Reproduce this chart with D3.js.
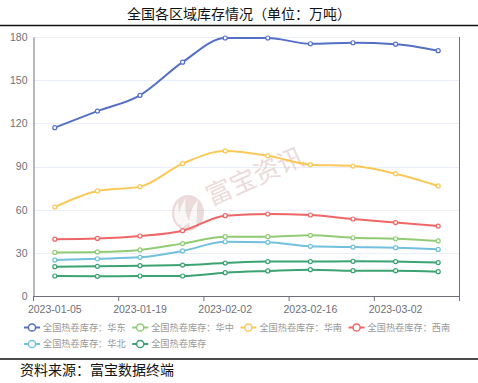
<!DOCTYPE html>
<html><head><meta charset="utf-8">
<script src="https://cdn.jsdelivr.net/npm/d3@7"></script>
<style>
html,body{margin:0;padding:0;background:#fff;}
svg{display:block;font-family:"Liberation Sans","Noto Sans CJK SC",sans-serif;}
</style></head>
<body>
<svg id="c" width="478" height="383"></svg>
<script>
const dates = ["2023-01-05","2023-01-12","2023-01-19","2023-01-26","2023-02-02","2023-02-09","2023-02-16","2023-02-23","2023-03-02","2023-03-09"];
const yTicks = [0,30,60,90,120,150,180];
const seriesNames = ["全国热卷库存：华东","全国热卷库存：华中","全国热卷库存：华南","全国热卷库存：西南","全国热卷库存：华北","全国热卷库存","全国热卷库存"];
const seriesColors = ["#5470c6","#91cc75","#fac858","#ee6666","#73c0de","#3ba272","#3ba272"];
const huadong = [117,128.5,139.5,162.5,179.3,179.3,175.3,176,175,170.5];
const huazhong = [30.3,30.6,32,36.4,41.2,41.2,42.2,40.5,39.8,38.3];
const huanan = [61.8,73,76,92,100.8,97.5,91.3,90.3,85,76.5];
const xinan = [39.5,40,41.7,45.4,55.8,57,56.3,53.5,51,48.6];
const huabei = [25,25.9,26.9,31.3,37.7,37.3,34.5,34,33.6,32.4];
const quanguoA = [20.4,20.6,21.1,21.5,22.9,23.9,23.9,24.1,23.9,23.2];
const quanguoB = [13.9,13.7,13.9,13.9,16.2,17.4,18.3,17.6,17.6,16.9];
const seriesValues = [huadong,huazhong,huanan,xinan,huabei,quanguoA,quanguoB];

const svg = d3.select("#c");
const L = 33.5, R = 459.5, T = 37, B = 296;
const x = d3.scaleBand().domain(dates).range([L, R]);
const y = d3.scaleLinear().domain([0,180]).range([B, T]);

// title
svg.append("text").attr("x",239).attr("y",19).attr("text-anchor","middle")
  .attr("font-family","'Noto Sans CJK SC',sans-serif").attr("font-size",14).attr("fill","#111")
  .text("全国各区域库存情况（单位：万吨）");
svg.append("line").attr("x1",0).attr("x2",478).attr("y1",25.5).attr("y2",25.5).attr("stroke","#111").attr("stroke-width",1.3);

// grid
svg.append("g").selectAll("line").data(yTicks.filter(d=>d>0)).join("line")
  .attr("x1",L).attr("x2",R).attr("y1",d=>Math.round(y(d))+0.5).attr("y2",d=>Math.round(y(d))+0.5)
  .attr("stroke","#e9eef8").attr("stroke-width",1);

// watermark
const wm = svg.append("g").attr("opacity",0.45);
wm.append("ellipse").attr("cx",188).attr("cy",213).attr("rx",16).attr("ry",18).attr("fill","#d4b0b0");
wm.append("path").attr("d","M182,228 C176,218 180,206 186,198 C184,208 186,216 190,222 Z M190,228 C188,216 192,206 198,200 C196,210 198,218 196,226 Z M178,224 C172,216 174,208 178,202 C178,210 180,218 184,226 Z")
  .attr("fill","#fff").attr("opacity",0.8);
wm.append("text").attr("transform","translate(211,206) rotate(-24)")
  .attr("font-family","'Noto Sans CJK SC',sans-serif").attr("font-size",26).attr("fill","#d4b0b0")
  .text("富宝资讯");

// axes
const yAxis = d3.axisLeft(y).tickValues(yTicks).tickSize(0).tickPadding(6);
const gy = svg.append("g").attr("transform",`translate(${L},0)`).call(yAxis);
gy.select(".domain").attr("stroke","#6e7079");
gy.selectAll("text").attr("fill","#6e7079").attr("font-size",10.5);
svg.append("line").attr("x1",R).attr("x2",R).attr("y1",T).attr("y2",B).attr("stroke","#6e7079");

const gx = svg.append("g").attr("transform",`translate(0,${B})`);
gx.append("line").attr("x1",L).attr("x2",R).attr("y1",0.5).attr("y2",0.5).attr("stroke","#6e7079");
const tickIdx = [0,2,4,6,8,10];
gx.selectAll("line.tk").data(tickIdx).join("line").attr("class","tk")
  .attr("x1",i=>L+i*x.step()).attr("x2",i=>L+i*x.step()).attr("y1",0).attr("y2",5).attr("stroke","#6e7079");
gx.selectAll("text").data(dates.filter((d,i)=>i%2===0)).join("text")
  .attr("x",d=>x(d)+x.bandwidth()/2).attr("y",17).attr("text-anchor","middle")
  .attr("fill","#6e7079").attr("font-size",10.5).text(d=>d);

// series
const line = d3.line().x((d,i)=>x(dates[i])+x.bandwidth()/2).y(d=>y(d)).curve(d3.curveMonotoneX);
seriesValues.forEach((vals,si)=>{
  const g = svg.append("g");
  g.append("path").attr("d",line(vals)).attr("fill","none").attr("stroke",seriesColors[si]).attr("stroke-width",2);
  g.selectAll("circle").data(vals).join("circle")
    .attr("cx",(d,i)=>x(dates[i])+x.bandwidth()/2).attr("cy",d=>y(d)).attr("r",2)
    .attr("fill","#fff").attr("stroke",seriesColors[si]).attr("stroke-width",1.2);
});

// legend
const legendNames = [];
const legendColors = [];
seriesNames.forEach((n,i)=>{ if(!legendNames.includes(n)){legendNames.push(n);legendColors.push(seriesColors[i]);} });
const lg = svg.append("g").attr("font-family","'Noto Sans CJK SC',sans-serif").attr("font-size",9.2);
let lx = 24, ly = 327.5;
legendNames.forEach((n,i)=>{
  const it = lg.append("g");
  const t = it.append("text").attr("x",19).attr("y",3.3).attr("fill","#999").text(n);
  const w = t.node().getComputedTextLength();
  const total = 19 + w;
  if (lx + total > 470) { lx = 24; ly += 16.5; }
  it.attr("transform",`translate(${lx},${ly})`);
  it.append("line").attr("x1",0).attr("x2",16).attr("y1",0).attr("y2",0).attr("stroke",legendColors[i]).attr("stroke-width",2);
  it.append("circle").attr("cx",8).attr("cy",0).attr("r",3.6).attr("fill","#fff").attr("stroke",legendColors[i]).attr("stroke-width",1.5);
  lx += total + 6.5;
});

// footer
svg.append("line").attr("x1",0).attr("x2",478).attr("y1",359).attr("y2",359).attr("stroke","#111").attr("stroke-width",1.3);
svg.append("text").attr("x",20).attr("y",375).attr("font-family","'Noto Sans CJK SC',sans-serif")
  .attr("font-size",14).attr("fill","#111").text("资料来源：富宝数据终端");
</script>
</body></html>
